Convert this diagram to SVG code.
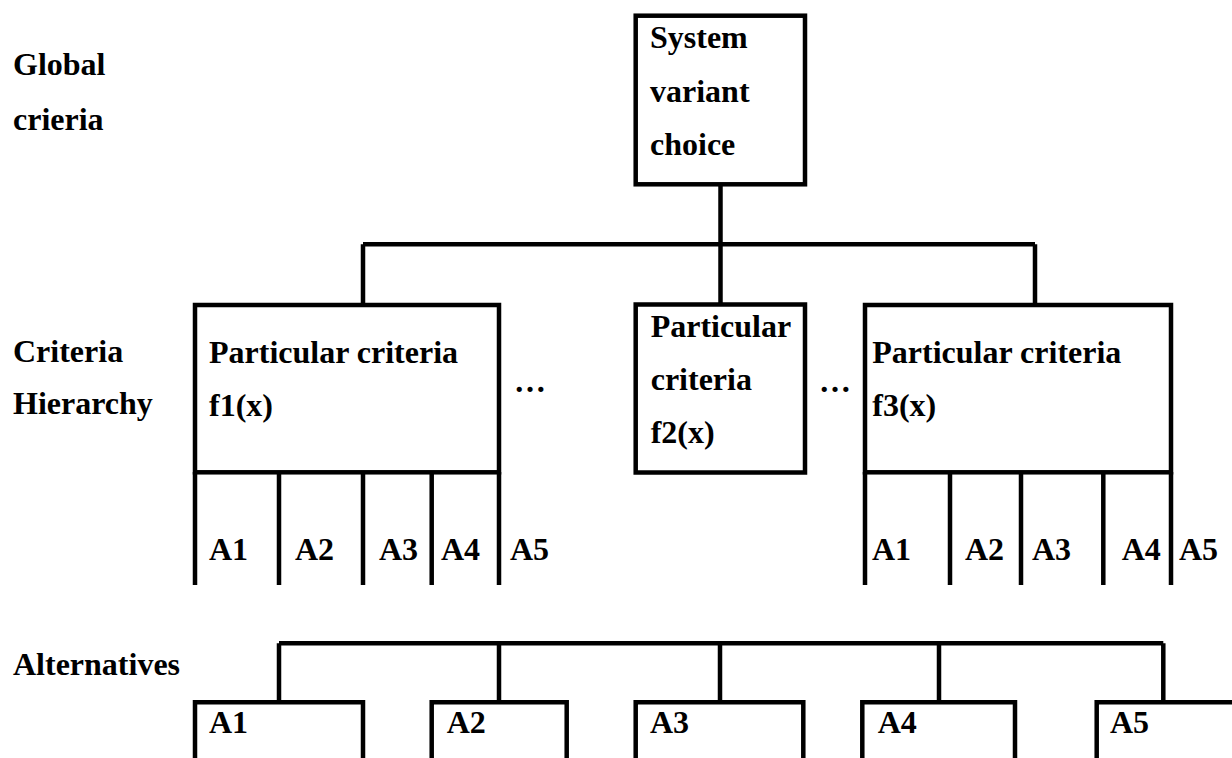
<svg xmlns="http://www.w3.org/2000/svg" width="1232" height="758" viewBox="0 0 1232 758">
<style>
text{font-family:"Liberation Serif","Times New Roman",serif;font-weight:bold;font-size:32px;fill:#000}
.ln{fill:none;stroke:#000;stroke-width:4.5;stroke-linecap:butt;stroke-linejoin:miter}
.bx{fill:#fff;stroke:#000;stroke-width:4.5}
</style>
<rect width="1232" height="758" fill="#fff"/>
<g id="labels">
<text x="13" y="75">Global</text>
<text x="13" y="130">crieria</text>
<text x="13" y="362">Criteria</text>
<text x="13" y="414">Hierarchy</text>
<text x="13" y="675">Alternatives</text>
</g>
<g id="connectors">
<path class="ln" d="M720.5,184 V305"/>
<path class="ln" d="M363,244.3 H1035 M363,244.3 V305 M1035,244.3 V305"/>
<path class="ln" d="M279,643.3 H1163.3 M279,643.3 V702 M499,643.3 V702 M720,643.3 V702 M939,643.3 V702 M1163.3,643.3 V702"/>
</g>
<g id="root">
<rect class="bx" x="635.7" y="15.7" width="169.3" height="168.6"/>
<text x="650" y="48">System</text>
<text x="650" y="101.5">variant</text>
<text x="650" y="155">choice</text>
</g>
<g id="f1">
<rect class="bx" x="195" y="305" width="304" height="167.3"/>
<path class="ln" d="M195,472 V585 M279,472 V585 M363,472 V585 M431.7,472 V585 M499,472 V585"/>
<text x="209" y="362.7">Particular criteria</text>
<text x="209" y="415.5">f1(x)</text>
<text x="209" y="560">A1</text>
<text x="295" y="560">A2</text>
<text x="379" y="560">A3</text>
<text x="441" y="560">A4</text>
<text x="510" y="560">A5</text>
</g>
<g id="dots1"><text x="514" y="391.5">…</text></g>
<g id="f2">
<rect class="bx" x="635.7" y="304.5" width="169.3" height="168"/>
<text x="650.7" y="336.7">Particular</text>
<text x="650.7" y="390">criteria</text>
<text x="650.7" y="443">f2(x)</text>
</g>
<g id="dots2"><text x="819" y="391.5">…</text></g>
<g id="f3">
<rect class="bx" x="865" y="305" width="306" height="167.3"/>
<path class="ln" d="M865,472 V585 M950,472 V585 M1021,472 V585 M1103.3,472 V585 M1171,472 V585"/>
<text x="872.3" y="362.7">Particular criteria</text>
<text x="872.3" y="415.5">f3(x)</text>
<text x="872" y="560">A1</text>
<text x="965" y="560">A2</text>
<text x="1032" y="560">A3</text>
<text x="1121.7" y="560">A4</text>
<text x="1179" y="560">A5</text>
</g>
<g id="alt1">
<path class="ln" d="M195,760 V702.3 H363 V760"/>
<text x="209" y="733">A1</text>
</g>
<g id="alt2">
<path class="ln" d="M431.7,760 V702.3 H566.7 V760"/>
<text x="446.7" y="733">A2</text>
</g>
<g id="alt3">
<path class="ln" d="M635.7,760 V702.3 H803.3 V760"/>
<text x="650" y="733">A3</text>
</g>
<g id="alt4">
<path class="ln" d="M862.3,760 V702.3 H1015 V760"/>
<text x="877.7" y="733">A4</text>
</g>
<g id="alt5">
<path class="ln" d="M1096.7,760 V702.3 H1234"/>
<text x="1110" y="733">A5</text>
</g>
</svg>
